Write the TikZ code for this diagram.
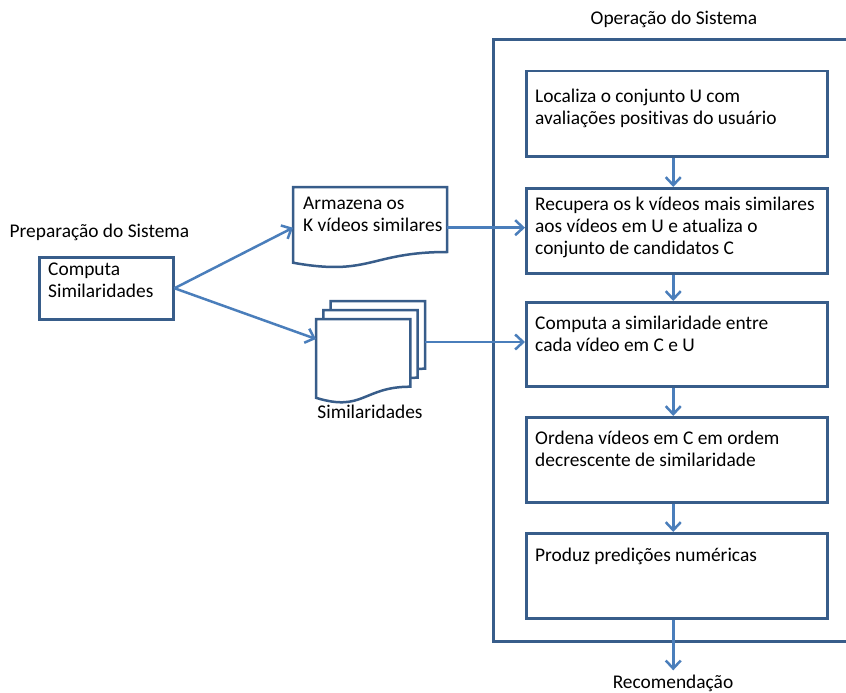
\documentclass[tikz,border=0pt]{standalone}
\usepackage{fontspec}
\setmainfont[Ligatures=NoCommon]{Carlito}
\usetikzlibrary{arrows.meta}
\definecolor{bord}{HTML}{385D8A}
\definecolor{arr}{HTML}{4A7EBB}
\newcommand\fstrut{\rule{0pt}{17pt}}
\tikzset{
  box/.style={draw=bord, line width=2.5pt, fill=white, inner sep=0pt, anchor=north west},
  inbox/.style={box, minimum width=301pt, minimum height=85pt},
  docline/.style={draw=bord, line width=2.5pt, fill=white, line join=miter},
  txt/.style={anchor=north west, inner sep=0pt, align=left, font=\fontsize{19.4}{22.3}\selectfont, text=black},
  lbl/.style={inner sep=0pt, font=\fontsize{19.4}{22.3}\selectfont, text=black},
  arrowln/.style={draw=arr, line width=2.5pt, -{Straight Barb[length=8pt,width=15pt]}},
  frameln/.style={draw=bord, line width=3pt}
}
\begin{document}
\begin{tikzpicture}[x=1pt,y=-1pt]
\useasboundingbox (0,0) rectangle (846,693);
\fill[white] (0,0) rectangle (846,693);
% frame
\draw[frameln] (847,40) -- (493,40) -- (493,641) -- (847,641);
\node[lbl, anchor=base] (optitle) at (674,25) {Operação do Sistema};
\node[lbl, anchor=base west] (prtitle) at (9.5,237) {Preparação do Sistema};
% inner boxes
\node[inbox] (b1) at (525,70) {};
\node[inbox] (b2) at (525,187) {};
\node[inbox, minimum height=84pt] (b3) at (525,301) {};
\node[inbox] (b4) at (525,416) {};
\node[inbox] (b5) at (525,532) {};
\node[txt] (t1) at (535,85) {\fstrut Localiza o conjunto U com\\avaliações positivas do usuário};
\node[txt] (t2) at (535,193) {\fstrut Recupera os k vídeos mais similares\\aos vídeos em U e atualiza o\\conjunto de candidatos C};
\node[txt] (t3) at (535,312) {\fstrut Computa a similaridade entre\\cada vídeo em C e U};
\node[txt] (t4) at (535,427) {\fstrut Ordena vídeos em C em ordem\\decrescente de similaridade};
\node[txt] (t5) at (535,544) {\fstrut Produz predições numéricas};
% computa
\node[box, minimum width=134pt, minimum height=62pt] (comp) at (38,256) {};
\node[txt] (tc) at (48,258) {\fstrut Computa\\Similaridades};
% armazena document
\node[anchor=north west, minimum width=154pt, minimum height=81pt, inner sep=0pt] (arm) at (293,187) {};
\draw[docline] (293,187) -- (447,187) -- (447,252) .. controls (370,252) and (370,276.7) .. (293,262.7) -- cycle;
\node[txt] (ta) at (303,192) {\fstrut Armazena os\\K vídeos similares};
% multidocument stack
\foreach \dx/\dy in {14.7/-18, 7.35/-9, 0/0}{
  \begin{scope}[shift={(316+\dx,319+\dy)}]
    \draw[docline] (0,0) -- (94.3,0) -- (94.3,67.7) .. controls (47.15,67.7) and (47.15,93.4) .. (0,78.8) -- cycle;
  \end{scope}
}
\node[lbl, anchor=base] (simlbl) at (370,418) {Similaridades};
\coordinate (simin) at (316,339);
\coordinate (simout) at (425,342);
% arrows
\draw[arrowln] (comp.east) -- (arm.west);
\draw[arrowln] (comp.east) -- (simin);
\draw[arrowln] (arm.east) -- (arm.east -| b2.west);
\draw[arrowln] (simout) -- (simout -| b3.west);
\draw[arrowln] ([xshift=-3.5pt]b1.south) -- ([xshift=-3.5pt]b2.north);
\draw[arrowln] ([xshift=-3.5pt]b2.south) -- ([xshift=-3.5pt]b3.north);
\draw[arrowln] ([xshift=-3.5pt]b3.south) -- ([xshift=-3.5pt]b4.north);
\draw[arrowln] ([xshift=-3.5pt]b4.south) -- ([xshift=-3.5pt]b5.north);
\node[lbl, anchor=base] (rec) at (673,688) {Recomendação};
\draw[arrowln, shorten >=4pt] ([xshift=-3.5pt]b5.south) -- ([xshift=-3.5pt]b5.south |- rec.north);
\end{tikzpicture}
\end{document}
